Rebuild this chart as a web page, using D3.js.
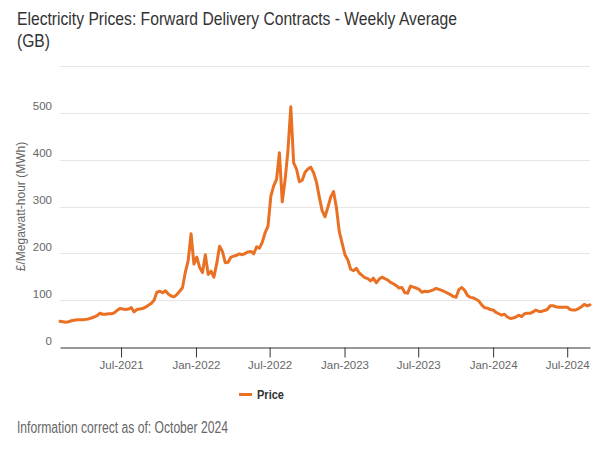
<!DOCTYPE html>
<html>
<head>
<meta charset="utf-8">
<script src="https://cdn.jsdelivr.net/npm/d3@7"></script>
<style>
  html, body { margin: 0; padding: 0; background: #ffffff; }
  svg { display: block; }
  text { font-family: "Liberation Sans", Arial, sans-serif; }
</style>
</head>
<body>
<svg id="chart" width="600" height="462"></svg>
<script>
// ---- Data ----
const titleLines = ["Electricity Prices: Forward Delivery Contracts - Weekly Average", "(GB)"];
const yAxisTitle = "£/Megawatt-hour (MWh)";
const footerText = "Information correct as of: October 2024";
const seriesName = "Price";
const firstWeek = "2021-02-01";
const prices = [
  55,54,53,54,56,57,58,58,58,59,
  60,62,64,67,72,70,70,71,71,73,
  78,82,81,80,81,84,75,80,81,82,
  85,89,93,100,117,119,116,120,113,109,
  107,112,119,127,160,185,242,177,192,170,
  159,197,155,162,149,178,215,204,180,181,
  192,194,196,199,197,200,203,204,199,214,
  211,224,244,258,322,344,358,415,310,357,
  420,513,393,380,353,356,373,380,384,372,
  352,320,291,278,298,320,332,298,247,222,
  197,186,166,163,168,158,153,148,146,141,
  147,137,145,149,146,143,138,135,131,126,
  127,116,115,130,128,126,123,117,119,118,
  120,122,125,123,121,118,115,112,108,106,
  123,127,121,110,106,105,102,98,90,84,
  83,80,79,74,71,68,70,64,61,62,
  64,68,65,71,72,72,75,79,76,76,
  78,80,88,88,86,85,85,85,85,80,
  79,79,82,86,91,88,90
];
const xTickDates = ["2021-07-01","2022-01-01","2022-07-01","2023-01-01","2023-07-01","2024-01-01","2024-07-01"];
const yTickValues = [0,100,200,300,400,500];
const yGridValues = [100,200,300,400,500,600];
const yMax = 600;

// ---- Chart ----
const parse = d3.utcParse("%Y-%m-%d");
const start = parse(firstWeek);
const data = prices.map((v, i) => ({ date: d3.utcWeek.offset(start, i), value: v }));

const svg = d3.select("#chart");
const plot = { left: 60, right: 590, top: 66, bottom: 347 };

const x = d3.scaleUtc()
  .domain(d3.extent(data, d => d.date))
  .range([plot.left, plot.right]);
const y = d3.scaleLinear().domain([0, yMax]).range([plot.bottom, plot.top]);

// gridlines
svg.append("g").selectAll("line").data(yGridValues).join("line")
  .attr("x1", plot.left).attr("x2", plot.right)
  .attr("y1", d => Math.round(y(d)) + 0.5).attr("y2", d => Math.round(y(d)) + 0.5)
  .attr("stroke", "#e6e6e6").attr("stroke-width", 1);

// y labels
svg.append("g").selectAll("text").data(yTickValues).join("text")
  .attr("x", plot.left - 8)
  .attr("y", d => y(d) - 2.5)
  .attr("text-anchor", "end")
  .attr("font-size", "11.5px")
  .attr("fill", "#666666")
  .text(d => d);

// y title
svg.append("text")
  .attr("transform", `translate(25,${(plot.top + plot.bottom) / 2}) rotate(-90)`)
  .attr("text-anchor", "middle")
  .attr("font-size", "12px")
  .attr("fill", "#666666")
  .text(yAxisTitle);

// x axis
const xAxis = d3.axisBottom(x)
  .tickValues(xTickDates.map(parse))
  .tickFormat(d3.utcFormat("%b-%Y"))
  .tickSize(10)
  .tickSizeOuter(0);
const gx = svg.append("g")
  .attr("transform", `translate(0,${Math.round(plot.bottom) + 0.5})`)
  .call(xAxis);
gx.select(".domain").attr("stroke", "#333333");
gx.selectAll(".tick line").attr("stroke", "#333333");
gx.selectAll(".tick text")
  .attr("font-size", "11.5px")
  .attr("font-family", "'Liberation Sans', Arial, sans-serif")
  .attr("fill", "#666666")
  .attr("dy", "0")
  .attr("y", 21);

// line
const line = d3.line().x(d => x(d.date)).y(d => y(d.value)).curve(d3.curveLinear);
svg.append("path")
  .datum(data)
  .attr("d", line)
  .attr("fill", "none")
  .attr("stroke", "#ea7023")
  .attr("stroke-width", 3)
  .attr("stroke-linejoin", "round")
  .attr("stroke-linecap", "round");

// title
svg.append("text").attr("x", 17).attr("y", 25)
  .attr("font-size", "18.5px").attr("fill", "#333333")
  .attr("textLength", 440).attr("lengthAdjust", "spacingAndGlyphs")
  .text(titleLines[0]);
svg.append("text").attr("x", 17).attr("y", 47)
  .attr("font-size", "18.5px").attr("fill", "#333333")
  .attr("textLength", 33).attr("lengthAdjust", "spacingAndGlyphs")
  .text(titleLines[1]);

// legend
const lg = svg.append("g");
lg.append("line").attr("x1", 239).attr("x2", 252).attr("y1", 394.5).attr("y2", 394.5)
  .attr("stroke", "#ea7023").attr("stroke-width", 3);
lg.append("text").attr("x", 257).attr("y", 398.5)
  .attr("font-size", "12px").attr("font-weight", "bold").attr("fill", "#333333")
  .attr("textLength", 27).attr("lengthAdjust", "spacingAndGlyphs")
  .text(seriesName);

// footer
svg.append("text").attr("x", 17).attr("y", 433)
  .attr("font-size", "16px").attr("fill", "#666666")
  .attr("textLength", 211).attr("lengthAdjust", "spacingAndGlyphs")
  .text(footerText);
</script>
</body>
</html>
